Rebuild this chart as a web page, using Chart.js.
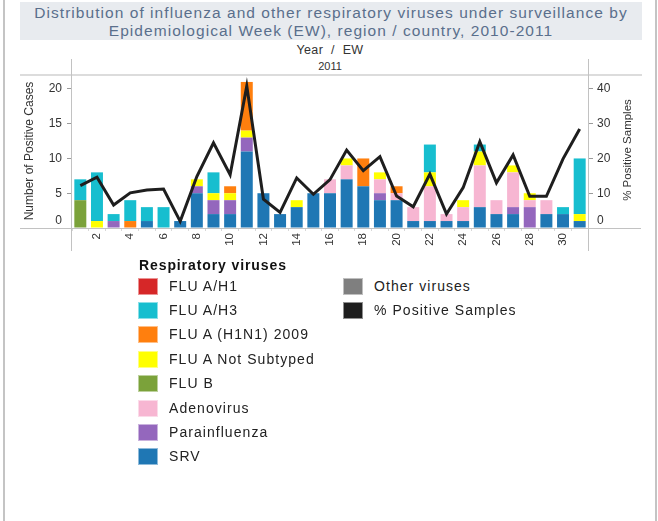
<!DOCTYPE html>
<html>
<head>
<meta charset="utf-8">
<script src="https://cdn.jsdelivr.net/npm/chart.js@4.4.0/dist/chart.umd.min.js"></script>
<style>
    body { margin: 0; background: #fff; font-family: "Liberation Sans", Arial, sans-serif; }
    #wrap { position: relative; width: 658px; height: 521px; overflow: hidden; }
    .frame { position: absolute; top: 0; width: 2px; height: 521px; background: #c4c4c4; }
    #title { position: absolute; left: 20px; top: 2px; width: 622px; height: 38px; background: #e8ebef;
             color: #5a6f8c; font-size: 15.5px; line-height: 18px; letter-spacing: 1.05px; text-align: center;
             padding-top: 2px; box-sizing: border-box; white-space: nowrap; }
    .hdr { position: absolute; left: 72px; width: 516px; text-align: center; color: #333; }
    #chartBox { position: absolute; left: 0; top: 0; width: 658px; height: 260px; }
    .lg { position: absolute; font-size: 14px; letter-spacing: 1.05px; color: #222; line-height: 17px; white-space: nowrap; }
    .sw { position: absolute; width: 20px; height: 17px; box-sizing: border-box; border: 1px solid rgba(255,255,255,0.5); }
</style>
</head>
<body>
<div id="wrap">
    <div class="frame" style="left:3px"></div>
    <div class="frame" style="left:655px"></div>
    <div id="title">Distribution of influenza and other respiratory viruses under surveillance by<br>Epidemiological Week (EW), region / country, 2010-2011</div>
    <div class="hdr" style="top:43px;font-size:12.5px;letter-spacing:0.4px">Year&nbsp; /&nbsp; EW</div>
    <div class="hdr" style="top:60px;font-size:11px">2011</div>
    <div id="chartBox"><canvas id="chart" width="658" height="260"></canvas></div>
    <div id="legend"></div>
</div>
<script>
// semanas epidemiologicas 2011
const weeks = ["1","2","3","4","5","6","7","8","9","10","11","12","13","14","15","16","17","18","19","20","21","22","23","24","25","26","27","28","29","30","31"];

const fluAH1      = [0,0,0,0,0,0,0,0,0,0,0,0,0,0,0,0,0,0,0,0,0,0,0,0,0,0,0,0,0,0,0];
const fluAH3      = [3,7,1,3,2,3,0,0,3,0,0,0,0,0,0,0,0,0,0,0,0,4,0,0,1,0,0,0,0,1,8];
const fluH1N1     = [0,0,0,1,0,0,0,0,0,1,7,0,0,0,0,0,0,4,0,1,0,0,0,0,0,0,0,0,0,0,0];
const fluNotSub   = [0,1,0,0,0,0,0,1,1,1,1,0,0,1,0,0,1,0,1,0,0,2,0,1,2,0,1,1,0,0,1];
const fluB        = [4,0,0,0,0,0,0,0,0,0,0,0,0,0,0,0,0,0,0,0,0,0,0,0,0,0,0,0,0,0,0];
const adenovirus  = [0,0,0,0,0,0,0,0,0,0,0,0,0,0,0,2,2,0,2,1,2,5,1,2,6,2,5,1,2,0,0];
const parainfl    = [0,0,1,0,0,0,0,1,2,2,2,0,0,0,0,0,0,0,1,0,0,0,0,0,0,0,1,3,0,0,0];
const srv         = [0,0,0,0,1,0,1,5,2,2,11,5,2,3,5,5,7,6,4,4,1,1,1,1,3,2,2,0,2,2,1];
const otherVirus  = [0,0,0,0,0,0,0,0,0,0,0,0,0,0,0,0,0,0,0,0,0,0,0,0,0,0,0,0,0,0,0];
const pctPositive = [12.2,14.6,6.6,10.1,10.9,11.2,1.9,14.8,24.5,15.3,40.8,8.3,4.5,14.4,9.7,13.9,22.4,16.5,20.5,9.2,6.1,15.5,4.0,11.6,24.8,13.0,21.0,9.1,9.1,19.9,28.5];

const leftTicks = [0, 5, 10, 15, 20];
const rightTicks = [0, 10, 20, 30, 40];

const colors = {
    h1: "#d62728", h3: "#17becf", h1n1: "#ff7f0e", notSub: "#ffff00", fluB: "#7ba23a",
    adeno: "#f7b6d2", para: "#9467bd", srv: "#1f77b4", other: "#7f7f7f", pct: "#1e1e1e"
};

// orden de apilado: de abajo hacia arriba
const barSeries = [
    { label: "SRV", data: srv, color: colors.srv },
    { label: "Other viruses", data: otherVirus, color: colors.other },
    { label: "Parainfluenza", data: parainfl, color: colors.para },
    { label: "Adenovirus", data: adenovirus, color: colors.adeno },
    { label: "FLU B", data: fluB, color: colors.fluB },
    { label: "FLU A Not Subtyped", data: fluNotSub, color: colors.notSub },
    { label: "FLU A (H1N1) 2009", data: fluH1N1, color: colors.h1n1 },
    { label: "FLU A/H3", data: fluAH3, color: colors.h3 },
    { label: "FLU A/H1", data: fluAH1, color: colors.h1 },
];

const datasets = barSeries.map((s) => ({
    type: "bar",
    label: s.label,
    data: s.data,
    backgroundColor: s.color,
    borderWidth: 0,
    yAxisID: "y",
    order: 1,
    categoryPercentage: 1,
    barPercentage: 0.72,
}));

datasets.push({
    type: "line",
    label: "% Positive Samples",
    data: pctPositive,
    borderColor: colors.pct,
    borderWidth: 3,
    borderJoinStyle: "miter",
    pointRadius: 0,
    tension: 0,
    yAxisID: "y1",
    order: 0,
});

// lineas del marco, titulos de ejes y los "0" desplazados
const framePlugin = {
    id: "frame",
    afterDraw(chart) {
        const c = chart.ctx;
        const a = chart.chartArea;
        c.save();
        c.strokeStyle = "#dcdcdc";
        c.lineWidth = 2;
        c.beginPath();
        c.moveTo(20, a.top); c.lineTo(642, a.top);
        c.stroke();
        c.strokeStyle = "#c2c2c2";
        c.lineWidth = 1;
        c.beginPath();
        c.moveTo(20, a.bottom + 0.5); c.lineTo(641, a.bottom + 0.5);
        c.moveTo(a.left - 0.5, 59); c.lineTo(a.left - 0.5, 251);
        c.moveTo(a.right + 0.5, 59); c.lineTo(a.right + 0.5, 251);
        c.stroke();

        c.fillStyle = "#333";
        c.font = "12px 'Liberation Sans', Arial";
        const y0 = chart.scales.y.getPixelForValue(0) - 7;
        c.textBaseline = "middle";
        c.textAlign = "right";
        c.fillText("0", a.left - 10, y0);
        c.textAlign = "left";
        c.fillText("0", a.right + 9, y0);

        c.font = "12px 'Liberation Sans', Arial";
        c.textAlign = "center";
        c.translate(30, 151);
        c.rotate(-Math.PI / 2);
        c.fillText("Number of Positive Cases", 0, 0);
        c.restore();

        c.save();
        c.fillStyle = "#333";
        c.font = "11.5px 'Liberation Sans', Arial";
        c.textAlign = "center";
        c.textBaseline = "middle";
        c.translate(628, 150);
        c.rotate(-Math.PI / 2);
        c.fillText("% Positive Samples", 0, 0);
        c.restore();
    },
};

const tickFont = { family: "'Liberation Sans', Arial", size: 12 };

new Chart(document.getElementById("chart"), {
    data: { labels: weeks, datasets: datasets },
    options: {
        responsive: false,
        animation: false,
        layout: { padding: { top: 75, left: 0, right: 0, bottom: 0 } },
        plugins: { legend: { display: false }, tooltip: { enabled: false } },
        scales: {
            x: {
                stacked: true,
                grid: { display: true, drawOnChartArea: false, drawTicks: true, tickLength: 3, color: "#d8d8d8" },
                border: { display: false },
                ticks: {
                    autoSkip: false,
                    minRotation: 90,
                    maxRotation: 90,
                    padding: 2,
                    color: "#333",
                    font: { family: "'Liberation Sans', Arial", size: 11.5 },
                    callback: (v, i) => ((i + 1) % 2 === 0 ? weeks[i] : ""),
                },
                afterFit: (s) => { s.height = 32; },
            },
            y: {
                stacked: true,
                position: "left",
                min: 0,
                max: 22,
                grid: { display: true, drawOnChartArea: false, drawTicks: true, tickLength: 5, color: "#9a9a9a" },
                border: { display: false },
                afterBuildTicks: (s) => { s.ticks = leftTicks.map((v) => ({ value: v })); },
                ticks: { padding: 5, color: "#333", font: tickFont, callback: (v) => (v === 0 ? "" : v) },
                afterFit: (s) => { s.width = 72; },
            },
            y1: {
                position: "right",
                min: 0,
                max: 44,
                grid: { display: true, drawOnChartArea: false, drawTicks: true, tickLength: 5, color: "#9a9a9a" },
                border: { display: false },
                afterBuildTicks: (s) => { s.ticks = rightTicks.map((v) => ({ value: v })); },
                ticks: { padding: 4, color: "#333", font: tickFont, callback: (v) => (v === 0 ? "" : v) },
                afterFit: (s) => { s.width = 70; },
            },
        },
    },
    plugins: [framePlugin],
});

// Leyenda
const legendItems = [
    ["FLU A/H1", colors.h1, 0, 0], ["FLU A/H3", colors.h3, 0, 1], ["FLU A (H1N1) 2009", colors.h1n1, 0, 2],
    ["FLU A Not Subtyped", colors.notSub, 0, 3], ["FLU B", colors.fluB, 0, 4], ["Adenovirus", colors.adeno, 0, 5],
    ["Parainfluenza", colors.para, 0, 6], ["SRV", colors.srv, 0, 7],
    ["Other viruses", colors.other, 1, 0], ["% Positive Samples", colors.pct, 1, 1],
];
const legend = document.getElementById("legend");
const head = document.createElement("div");
head.className = "lg";
head.style.cssText = "left:139px;top:257px;font-weight:bold;font-size:14px;letter-spacing:0.9px;color:#111";
head.textContent = "Respiratory viruses";
legend.appendChild(head);
legendItems.forEach(([label, color, col, row]) => {
    const cy = 286 + row * 24.4;
    const sx = col === 0 ? 138 : 343;
    const sw = document.createElement("div");
    sw.className = "sw";
    sw.style.left = sx + "px";
    sw.style.top = (cy - 8.5) + "px";
    sw.style.background = color;
    legend.appendChild(sw);
    const tx = document.createElement("div");
    tx.className = "lg";
    tx.style.left = (sx + 31) + "px";
    tx.style.top = (cy - 8.5) + "px";
    tx.textContent = label;
    legend.appendChild(tx);
});
</script>
</body>
</html>
